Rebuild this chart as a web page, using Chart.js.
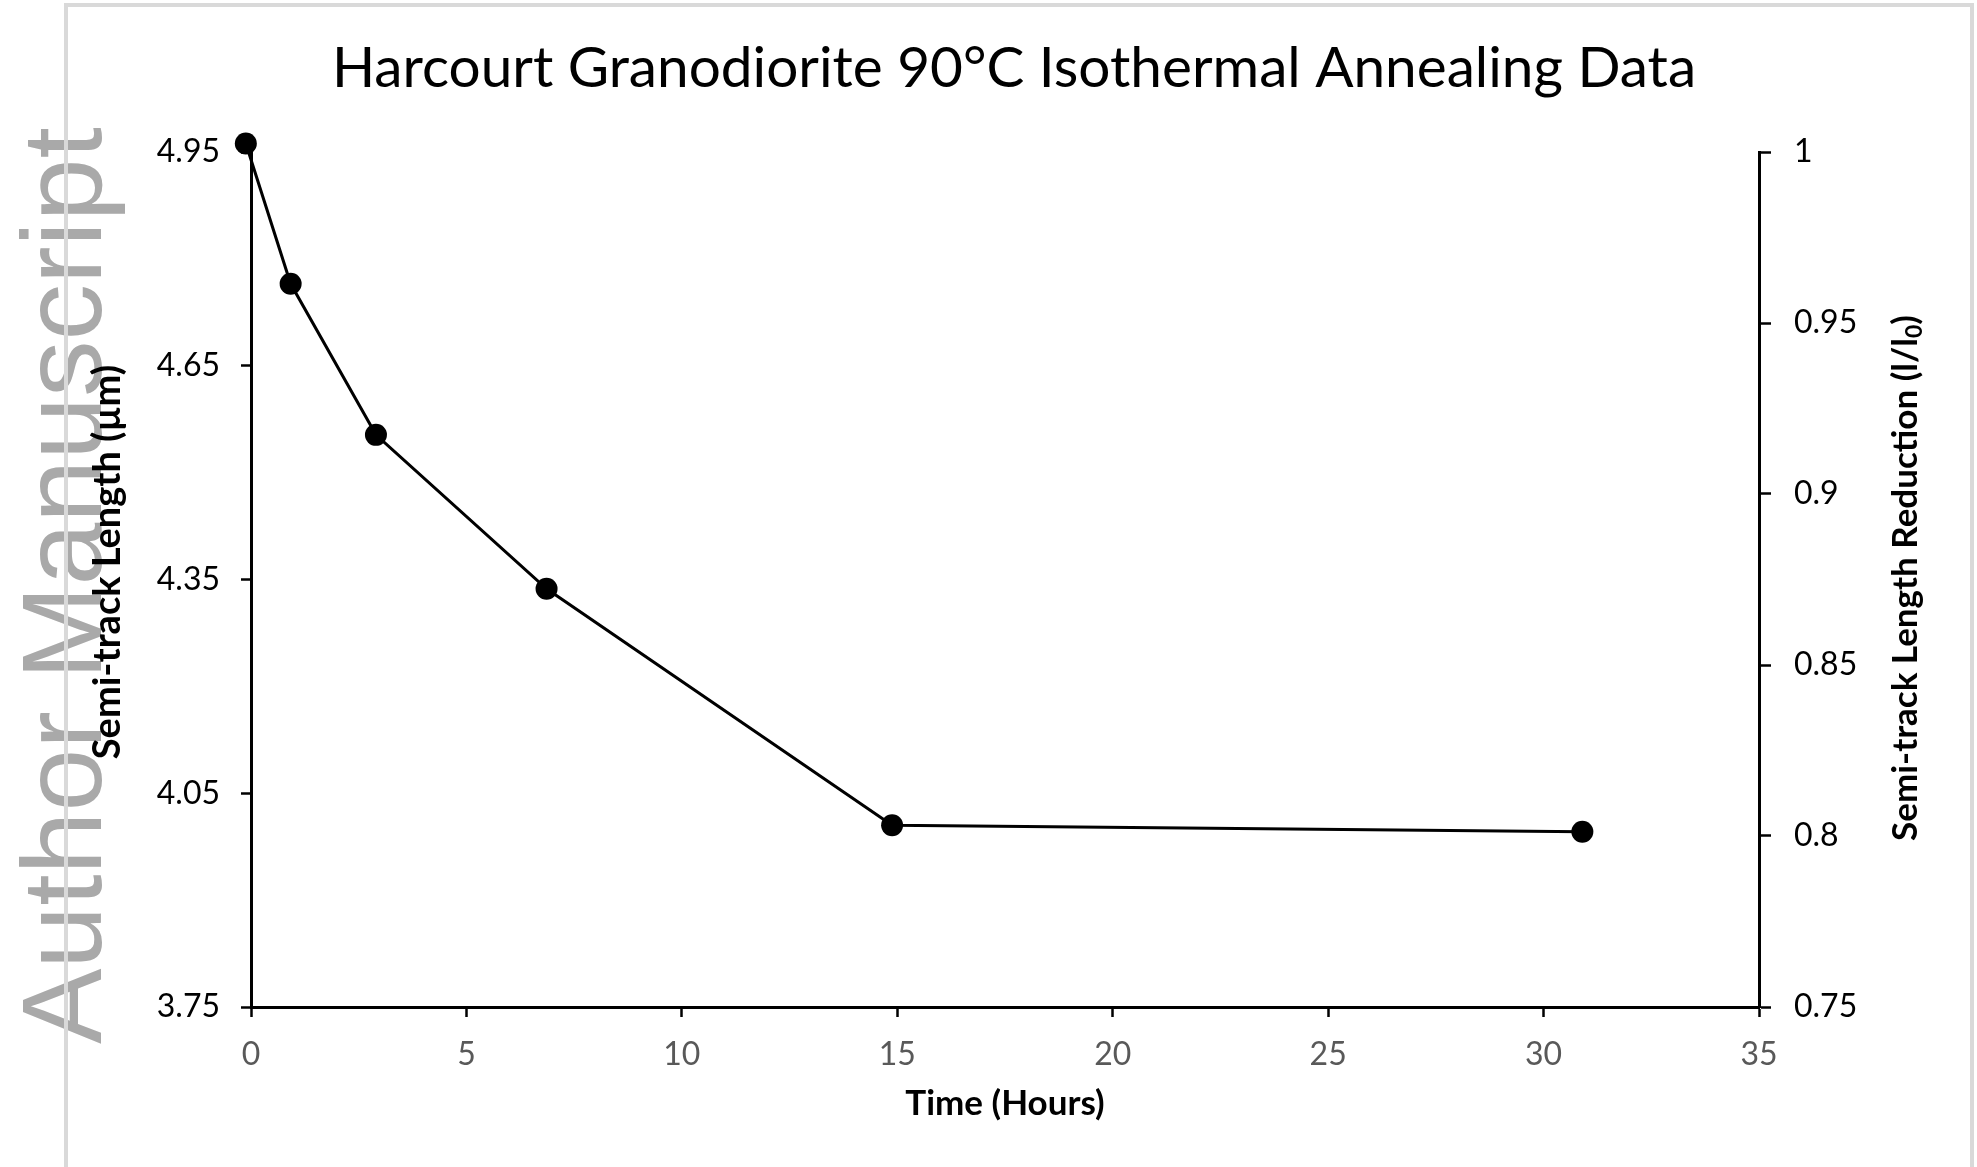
<!DOCTYPE html>
<html lang="en">
<head>
<meta charset="UTF-8">
<title>Harcourt Granodiorite 90°C Isothermal Annealing Data</title>
<script src="https://cdn.jsdelivr.net/npm/chart.js"></script>
<style>
  body { margin: 0; background: #fff; }
  #wrap { position: relative; width: 1977px; height: 1167px; }
</style>
</head>
<body>
<div id="wrap"><canvas id="annealChart"></canvas></div>
<script>
// values
const timeHours = [-0.12, 0.92, 2.9, 6.86, 14.88, 30.9];
const semiTrackLength = [4.962, 4.765, 4.553, 4.337, 4.005, 3.996];
const xTicks = [0, 5, 10, 15, 20, 25, 30, 35];
const leftTicks = [3.75, 4.05, 4.35, 4.65, 4.95];
const rightTicks = [0.75, 0.8, 0.85, 0.9, 0.95, 1];

const FONT = "Lato, 'Open Sans', sans-serif";
Chart.defaults.font.family = FONT;
Chart.defaults.color = '#000';

// draws rotated text (bottom to top) centred on cx, cy; parts = [[text, size, dy], ...]
function verticalTitle(ctx, cx, cy, parts) {
  ctx.save();
  ctx.translate(cx, cy);
  ctx.rotate(-Math.PI / 2);
  ctx.fillStyle = '#000';
  ctx.textBaseline = 'middle';
  ctx.textAlign = 'left';
  let total = 0;
  parts.forEach(p => { ctx.font = 'bold ' + p[1] + 'px ' + FONT; total += ctx.measureText(p[0]).width; });
  let x = -total / 2;
  parts.forEach(p => {
    ctx.font = 'bold ' + p[1] + 'px ' + FONT;
    ctx.fillText(p[0], x, p[2]);
    x += ctx.measureText(p[0]).width;
  });
  ctx.restore();
}

// watermark, page frame, chart title and both y-axis titles
const pageExtras = {
  id: 'pageExtras',
  beforeDraw(chart) {
    const ctx = chart.ctx;
    ctx.save();
    ctx.translate(101, 1044);
    ctx.rotate(-Math.PI / 2);
    ctx.font = '113px "Liberation Sans"';
    ctx.fillStyle = '#a9a9a9';
    ctx.textBaseline = 'alphabetic';
    ctx.fillText('Author Manuscript', 0, 0);
    ctx.restore();

    ctx.save();
    ctx.strokeStyle = '#d9d9d9';
    ctx.lineWidth = 4;
    ctx.beginPath();
    ctx.moveTo(66, 1167);
    ctx.lineTo(66, 5);
    ctx.lineTo(1972, 5);
    ctx.lineTo(1972, 1167);
    ctx.stroke();
    ctx.restore();
  },
  afterDraw(chart) {
    const ctx = chart.ctx;
    ctx.save();
    ctx.font = '56.7px ' + FONT;
    ctx.fillStyle = '#000';
    ctx.textAlign = 'center';
    ctx.textBaseline = 'middle';
    ctx.fillText('Harcourt Granodiorite 90°C Isothermal Annealing Data', 1014, 69);
    ctx.restore();

    verticalTitle(ctx, 108, 562, [['Semi-track Length (µm)', 38, 0]]);
    verticalTitle(ctx, 1906, 578, [
      ['Semi-track Length Reduction (l/l', 35, 0],
      ['0', 23, 9],
      [')', 35, 0]
    ]);
  }
};

const ctx = document.getElementById('annealChart').getContext('2d');
new Chart(ctx, {
  type: 'line',
  data: {
    datasets: [{
      label: 'Semi-track Length',
      data: timeHours.map((t, i) => ({ x: t, y: semiTrackLength[i] })),
      borderColor: '#000',
      borderWidth: 3,
      pointRadius: 11,
      pointHoverRadius: 11,
      pointBackgroundColor: '#000',
      pointBorderWidth: 0,
      tension: 0,
      clip: false,
      xAxisID: 'x',
      yAxisID: 'y'
    }]
  },
  options: {
    responsive: true,
    maintainAspectRatio: false,
    animation: false,
    layout: { padding: { top: 152, left: 0, right: 0, bottom: 0 } },
    plugins: {
      legend: { display: false },
      tooltip: { enabled: false },
      title: { display: false }
    },
    scales: {
      x: {
        type: 'linear',
        min: 0,
        max: 35,
        afterBuildTicks: s => { s.ticks = xTicks.map(v => ({ value: v })); },
        afterFit: s => { s.height = 160; },
        border: { color: '#000', width: 3 },
        grid: { drawOnChartArea: false, tickLength: 10, tickColor: '#000', tickWidth: 2.5 },
        ticks: { color: '#595959', font: { size: 32 }, padding: 18, maxRotation: 0, callback: v => String(v) },
        title: {
          display: true, text: 'Time (Hours)', color: '#000',
          font: { size: 35, weight: 'bold' }, padding: { bottom: 42 }
        }
      },
      y: {
        type: 'linear',
        position: 'left',
        min: 3.75,
        max: 4.95,
        afterBuildTicks: s => { s.ticks = leftTicks.map(v => ({ value: v })); },
        afterFit: s => { s.width = 251; },
        border: { color: '#000', width: 3 },
        grid: { drawOnChartArea: false, tickLength: 10, tickColor: '#000', tickWidth: 2.5 },
        ticks: { color: '#000', font: { size: 32 }, padding: 21, callback: v => String(v) },
        title: { display: false }
      },
      yRight: {
        type: 'linear',
        position: 'right',
        display: true,
        min: 0.75,
        max: 1,
        afterBuildTicks: s => { s.ticks = rightTicks.map(v => ({ value: v })); },
        afterFit: s => { s.width = 218; },
        border: { color: '#000', width: 3 },
        grid: { drawOnChartArea: false, tickLength: 12, tickColor: '#000', tickWidth: 2.5 },
        ticks: { color: '#000', font: { size: 32 }, padding: 23, callback: v => String(v) }
      }
    }
  },
  plugins: [pageExtras]
});
</script>
</body>
</html>
